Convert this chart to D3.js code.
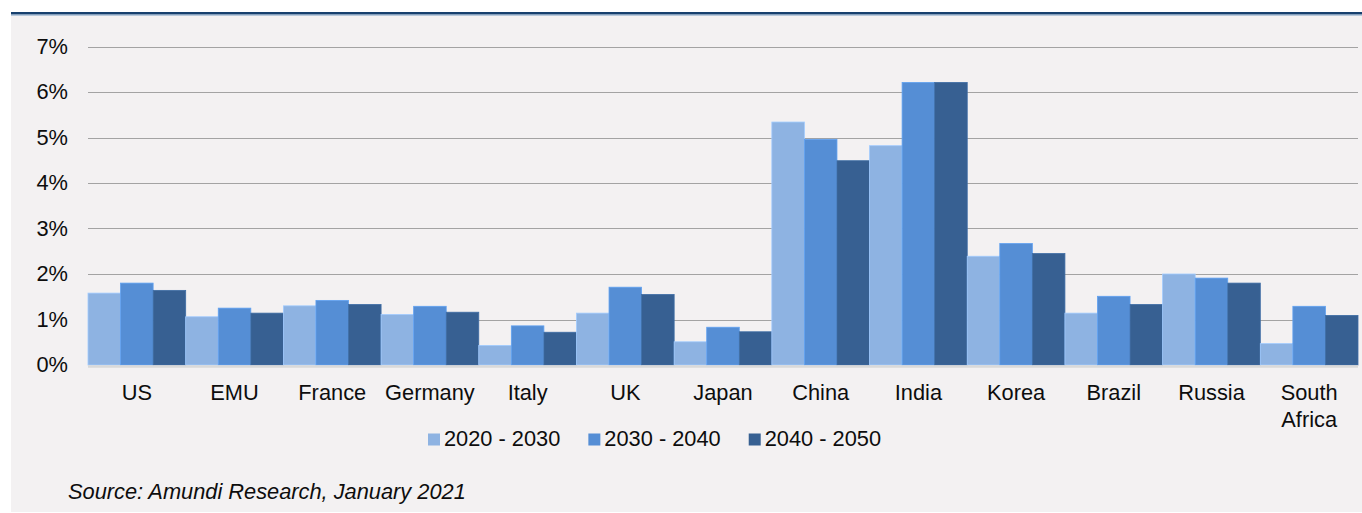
<!DOCTYPE html>
<html>
<head>
<meta charset="utf-8">
<script src="https://cdn.jsdelivr.net/npm/d3@7"></script>
<style>
  html, body { margin: 0; padding: 0; background: #ffffff; }
  svg { display: block; font-family: Arial, "Liberation Sans", sans-serif; }
</style>
</head>
<body>
<svg id="chart" width="1362" height="513"></svg>
<script>
// Average annual potential growth by decade (%)
const categories = ["US", "EMU", "France", "Germany", "Italy", "UK", "Japan",
                    "China", "India", "Korea", "Brazil", "Russia", "South Africa"];
const periods = ["2020 - 2030", "2030 - 2040", "2040 - 2050"];
const growth2020s = [1.58, 1.06, 1.30, 1.11, 0.43, 1.14, 0.51, 5.34, 4.82, 2.39, 1.14, 2.00, 0.47];
const growth2030s = [1.80, 1.25, 1.42, 1.29, 0.86, 1.71, 0.83, 4.96, 6.21, 2.67, 1.51, 1.91, 1.29];
const growth2040s = [1.64, 1.14, 1.33, 1.16, 0.72, 1.55, 0.73, 4.49, 6.21, 2.45, 1.33, 1.80, 1.09];
const yTicks = [0, 1, 2, 3, 4, 5, 6, 7];
const sourceNote = "Source: Amundi Research, January 2021";

const seriesValues = [growth2020s, growth2030s, growth2040s];
const colors = ["#8eb3e2", "#558ed5", "#376092"];
const FONT = 21.8;

const W = 1362, H = 513;
const plot = { left: 88, right: 1358, top: 46.5, bottom: 365 };
const svg = d3.select("#chart");

// page panel and header rule
svg.append("rect").attr("x", 11).attr("y", 15).attr("width", W - 11).attr("height", H - 16)
  .attr("fill", "#f3f1f2");
svg.append("rect").attr("x", 11).attr("y", 12).attr("width", W - 11).attr("height", 2.5)
  .attr("fill", "#17406e");
svg.append("rect").attr("x", 11).attr("y", 14.5).attr("width", W - 11).attr("height", 1)
  .attr("fill", "#7d9dbf");

const x = d3.scaleBand().domain(categories).range([plot.left, plot.right]).padding(0);
const xs = d3.scaleBand().domain(periods).range([0, x.bandwidth()]).padding(0);
const y = d3.scaleLinear().domain([0, 7]).range([plot.bottom, plot.top]);

// gridlines
svg.append("g").selectAll("line").data(yTicks.filter(t => t > 0)).join("line")
  .attr("x1", plot.left).attr("x2", plot.right)
  .attr("y1", d => Math.round(y(d)) + 0.5).attr("y2", d => Math.round(y(d)) + 0.5)
  .attr("stroke", "#a3a3a3").attr("stroke-width", 1);

// y tick labels
const yAxis = d3.axisLeft(y).tickValues(yTicks).tickFormat(d => d + "%").tickSize(0).tickPadding(0);
const gy = svg.append("g").attr("transform", `translate(68,0)`).call(yAxis);
gy.select(".domain").remove();
gy.selectAll("text").attr("font-size", FONT).attr("fill", "#0d0d0d")
  .attr("font-family", "Arial, 'Liberation Sans', sans-serif");

// bars
const rows = categories.map((c, i) => ({ c, vals: periods.map((p, k) => ({ p, k, v: seriesValues[k][i] })) }));
const groups = svg.append("g").selectAll("g").data(rows).join("g")
  .attr("transform", d => `translate(${x(d.c)},0)`);
groups.selectAll("rect").data(d => d.vals).join("rect")
  .attr("x", d => xs(d.p))
  .attr("y", d => y(d.v))
  .attr("width", xs.bandwidth())
  .attr("height", d => y(0) - y(d.v))
  .attr("fill", d => colors[d.k])
  .attr("stroke", d => d3.color(colors[d.k]).brighter(0.35))
  .attr("stroke-width", 0.8);

// baseline
svg.append("line").attr("x1", plot.left).attr("x2", plot.right)
  .attr("y1", plot.bottom + 1.5).attr("y2", plot.bottom + 1.5)
  .attr("stroke", "#d9d9d9").attr("stroke-width", 2.5);

// category labels (wrap when wider than the band)
const xAxis = d3.axisBottom(x).tickSize(0).tickPadding(0);
const gx = svg.append("g").attr("transform", `translate(0,${plot.bottom})`).call(xAxis);
gx.select(".domain").remove();
gx.selectAll("text")
  .attr("font-size", FONT).attr("fill", "#0d0d0d")
  .attr("font-family", "Arial, 'Liberation Sans', sans-serif")
  .attr("y", 35).attr("dy", null)
  .each(function (d) {
    const t = d3.select(this);
    if (this.getComputedTextLength() > x.bandwidth()) {
      const words = d.split(" ");
      t.text(null);
      words.forEach((w, i) => t.append("tspan").attr("x", 0).attr("y", 35 + i * 27).text(w));
    }
  });

// legend
const legend = svg.append("g").attr("transform", "translate(428,0)");
let lx = 0;
periods.forEach((p, k) => {
  const g = legend.append("g").attr("transform", `translate(${lx},0)`);
  g.append("rect").attr("x", 0).attr("y", 433.5).attr("width", 12).attr("height", 12).attr("fill", colors[k]);
  const t = g.append("text").attr("x", 16).attr("y", 446).attr("font-size", FONT).attr("fill", "#0d0d0d").text(p);
  lx += 16 + t.node().getComputedTextLength() + 28;
});

// source note
svg.append("text").attr("x", 68).attr("y", 499).attr("font-size", FONT)
  .attr("font-style", "italic").attr("fill", "#0d0d0d").text(sourceNote);
</script>
</body>
</html>
